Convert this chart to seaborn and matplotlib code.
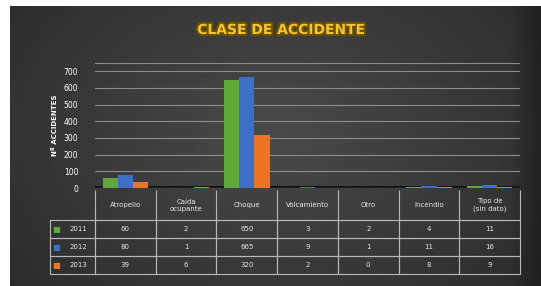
import numpy as np
import pandas as pd
import matplotlib.pyplot as plt
import matplotlib.patheffects as pe
import seaborn as sns

# data
categories = ['Atropello', 'Caída\nocupante', 'Choque', 'Volcamiento', 'Otro', 'Incendio', 'Tipo de\n(sin dato)']
years = ['2011', '2012', '2013']
vals_2011 = [60, 2, 650, 3, 2, 4, 11]
vals_2012 = [80, 1, 665, 9, 1, 11, 16]
vals_2013 = [39, 6, 320, 2, 0, 8, 9]
colors = ['#5ea83a', '#3d6fc6', '#ec7424']

df = pd.DataFrame({
    'Clase': categories * 3,
    'Año': [y for y in years for _ in categories],
    'N': vals_2011 + vals_2012 + vals_2013,
})

sns.set_theme(style='white')
plt.rcParams['font.family'] = ['DejaVu Sans']

W, H = 541, 286
fig = plt.figure(figsize=(W / 100, H / 100), dpi=100)
fig.patch.set_facecolor('white')

# dark radial gradient background (white strip top and left)
bg = fig.add_axes([10 / W, 0, 1 - 10 / W, 1 - 6 / H], zorder=-5)
yy, xx = np.mgrid[1:0:200j, 0:1:400j]
r = np.sqrt(((xx - 0.5) / 0.6) ** 2 + ((yy - 0.55) / 0.8) ** 2)
shade = np.clip(0.29 - 0.11 * r, 0.13, 0.3)
shade[:, -25:] *= np.linspace(1, 0.7, 25)
bg.imshow(shade, cmap='gray', vmin=0, vmax=1, aspect='auto', extent=[0, 1, 0, 1])
bg.axis('off')

# plot area
x0, x1, ytop, ybot = 95, 520, 63, 188
ax = fig.add_axes([x0 / W, 1 - ybot / H, (x1 - x0) / W, (ybot - ytop) / H])
ax.set_facecolor('none')
sns.barplot(data=df, x='Clase', y='N', hue='Año', palette=colors, width=0.75,
            ax=ax, legend=False, saturation=1, edgecolor='none')
ax.set_ylim(0, 750)
ax.set_yticks(range(0, 701, 100))
ax.tick_params(axis='y', colors='white', labelsize=5.5, length=0, pad=12)
ax.set_xticks([])
ax.set_xlabel('')
ax.set_ylabel('Nº ACCIDENTES', color='white', fontsize=5, fontweight='bold', labelpad=4)
ax.yaxis.grid(True, color='#8c8c8c', lw=0.8)
ax.axhline(750, color='#8c8c8c', lw=0.8)
ax.set_axisbelow(True)
for s in ax.spines.values():
    s.set_visible(False)
ax.axhline(0, color='#151515', lw=3, zorder=0)

# data table under the chart
cell_text = [['■', y] + [str(v) for v in vals] for y, vals in
             zip(years, [vals_2011, vals_2012, vals_2013])]
col_labels = ['', ''] + categories
key_w, lab_w = 12, 33
cat_w = (x1 - x0) / len(categories)
widths = [key_w, lab_w] + [cat_w] * len(categories)
tab_left = x0 - key_w - lab_w
tab_top, tab_bot = 190, 274
ah = ybot - ytop
tbl = ax.table(cellText=cell_text, colLabels=col_labels, colWidths=widths,
               cellLoc='center',
               bbox=[(tab_left - x0) / (x1 - x0), (ybot - tab_bot) / ah,
                     (x1 - tab_left) / (x1 - x0), (tab_bot - tab_top) / ah])
tbl.auto_set_font_size(False)
tbl.set_fontsize(5)
for (r, c), cell in tbl.get_celld().items():
    cell.set_facecolor('none')
    cell.set_edgecolor('#b8b8b8')
    cell.set_linewidth(0.8)
    cell.get_text().set_color('#e8e8e8')
    cell.set_height(0.34 if r == 0 else 0.2)
    if r == 0:
        cell.visible_edges = 'BR' if c >= 1 else 'B'
        if c == 1:
            cell.visible_edges = 'R'
        if c == 0:
            cell.visible_edges = ''
    if r > 0 and c == 0:
        cell.get_text().set_color(colors[r - 1])
        cell.get_text().set_fontsize(6)
        cell.visible_edges = 'LTB'
    if r > 0 and c == 1:
        cell.visible_edges = 'RTB'

fig.text(0.52, 1 - 30 / H, 'CLASE DE ACCIDENTE', ha='center', va='center',
         color='#f5c430', fontsize=10, fontweight='bold',
         path_effects=[pe.withStroke(linewidth=3, foreground='#6b5200')])

fig.savefig('out.png', dpi=100, facecolor=fig.get_facecolor())
